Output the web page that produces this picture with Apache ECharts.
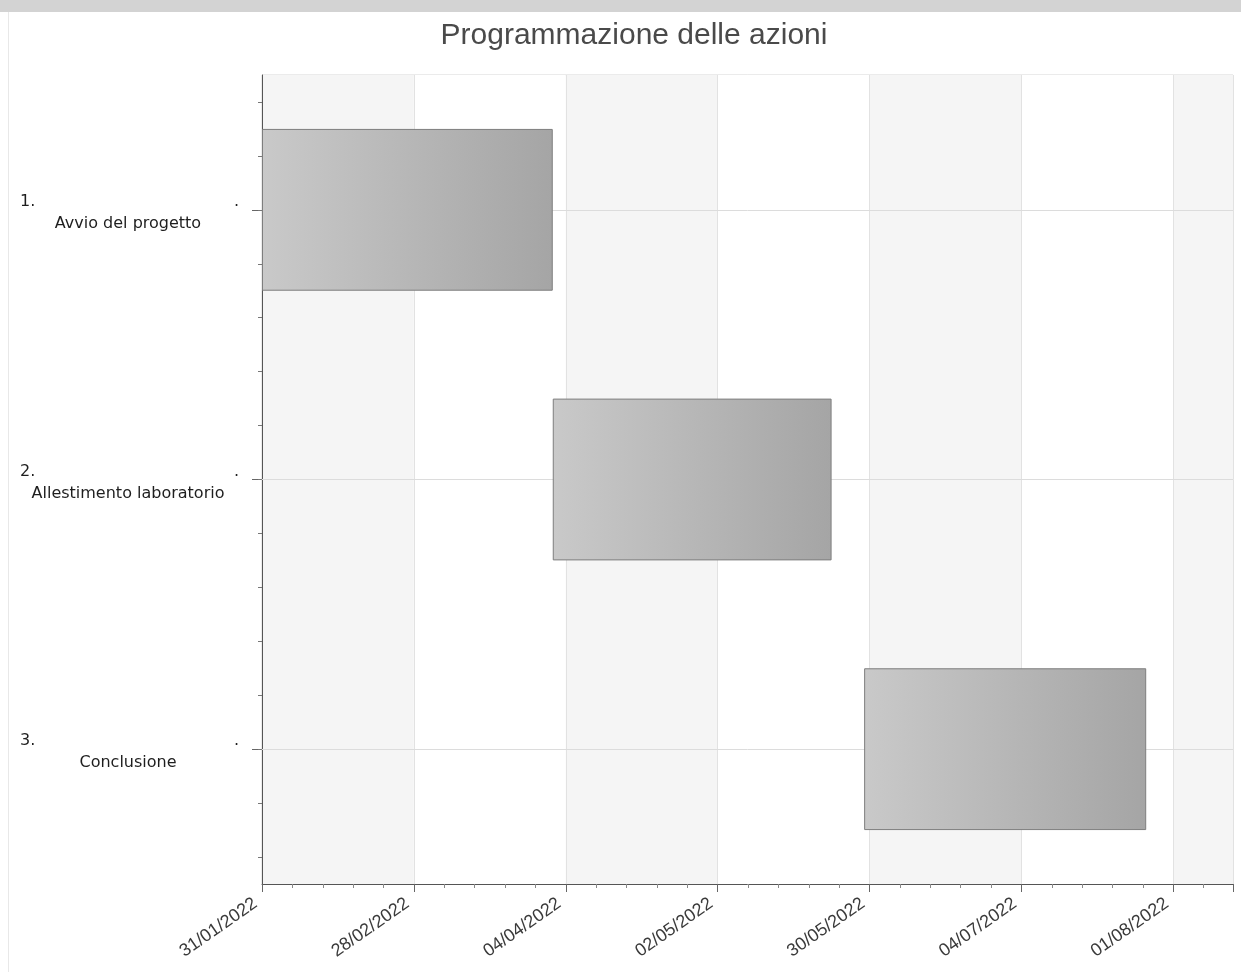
<!DOCTYPE html>
<html>
<head>
<meta charset="utf-8">
<script src="https://cdn.jsdelivr.net/npm/echarts@6/dist/echarts.min.js"></script>
<style>
  html, body { margin: 0; padding: 0; background: #ffffff; }
  #chart { width: 1241px; height: 972px; }
</style>
</head>
<body>
<div id="chart"></div>
<script>
// ---- data ----
const tickLabels = ['31/01/2022', '28/02/2022', '04/04/2022', '02/05/2022', '30/05/2022', '04/07/2022', '01/08/2022'];
const taskNumbers = ['1.', '2.', '3.'];
const taskNames = ['Avvio del progetto', 'Allestimento laboratorio', 'Conclusione'];
const taskStarts = ['2022-01-31', '2022-04-01', '2022-05-29'];
const taskEnds = ['2022-04-01', '2022-05-23', '2022-07-27'];
const axisEndDate = '2022-08-12';

// ---- helpers: date -> position on the (month-spaced) axis ----
function parseLabel(s) {
  const p = s.split('/');
  return Date.UTC(+p[2], +p[1] - 1, +p[0]);
}
function parseIso(s) {
  const p = s.split('-');
  return Date.UTC(+p[0], +p[1] - 1, +p[2]);
}
const tickTimes = tickLabels.map(parseLabel);
function datePos(iso) {
  const t = parseIso(iso);
  const n = tickTimes.length;
  for (let i = 0; i < n - 1; i++) {
    if (t >= tickTimes[i] && t <= tickTimes[i + 1]) {
      return i + (t - tickTimes[i]) / (tickTimes[i + 1] - tickTimes[i]);
    }
  }
  const last = tickTimes[n - 1] - tickTimes[n - 2];
  return (n - 1) + (t - tickTimes[n - 1]) / last;
}
const startPos = taskStarts.map(datePos);
const durations = taskEnds.map((e, i) => datePos(e) - startPos[i]);
const axisMax = datePos(axisEndDate);

// minor tick positions on the task axis: five per task band, centred on each task
const minorTickValues = [];
for (let k = -2; k <= 12; k++) minorTickValues.push(k / 5);

const chart = echarts.init(document.getElementById('chart'), null, { renderer: 'canvas' });

const option = {
  backgroundColor: '#ffffff',
  animation: false,
  title: {
    text: 'Programmazione delle azioni',
    left: 629,
    textAlign: 'center',
    top: 16,
    textStyle: {
      fontFamily: 'Liberation Sans',
      fontSize: 30,
      fontWeight: 'normal',
      color: '#4a4a4a'
    }
  },
  graphic: [
    { type: 'rect', left: 0, top: 0, shape: { width: 1241, height: 12 }, style: { fill: '#d3d3d3' }, silent: true },
    { type: 'rect', left: 8, top: 12, shape: { width: 1, height: 960 }, style: { fill: '#e8e8e8' }, silent: true }
  ],
  grid: {
    left: 262,
    right: 8,
    top: 75,
    bottom: 88,
    show: true,
    borderColor: '#d6d6d6',
    borderWidth: 1,
    backgroundColor: 'transparent'
  },
  xAxis: {
    type: 'value',
    min: 0,
    max: axisMax,
    interval: 1,
    axisLine: { show: true, onZero: false, lineStyle: { color: '#555555', width: 1 } },
    axisTick: { show: true, length: 8, lineStyle: { color: '#666666' } },
    minorTick: { show: true, splitNumber: 5, length: 4, lineStyle: { color: '#888888' } },
    splitLine: { show: true, lineStyle: { color: '#e2e2e2', width: 1 } },
    splitArea: { show: true, areaStyle: { color: ['#f5f5f5', '#ffffff'] } },
    axisLabel: {
      rotate: 35,
      margin: 13,
      padding: [0, 8, 0, 0],
      fontFamily: 'Liberation Sans',
      fontSize: 18,
      color: '#3a3a3a',
      formatter: function (v) {
        const i = Math.round(v);
        if (Math.abs(v - i) > 1e-6) return '';
        return tickLabels[i] || '';
      }
    }
  },
  yAxis: [
    {
      type: 'category',
      inverse: true,
      data: taskNames,
      axisLine: { show: true, onZero: false, lineStyle: { color: '#555555', width: 1 } },
      axisTick: { show: true, alignWithLabel: true, length: 10, lineStyle: { color: '#666666' } },
      splitLine: { show: false },
      axisLabel: {
        margin: 18,
        align: 'right',
        padding: [6, 0, 0, 0],
        fontFamily: 'DejaVu Sans',
        fontSize: 16,
        color: '#1e1e1e',
        formatter: function (value, index) {
          return '{num|' + taskNumbers[index] + '}{dot|.}\n{name|' + value + '}{pad|}';
        },
        rich: {
          num: { width: 214, align: 'left', fontFamily: 'DejaVu Sans', fontSize: 16, color: '#1e1e1e', lineHeight: 22 },
          dot: { width: 10, align: 'left', fontFamily: 'DejaVu Sans', fontSize: 16, color: '#1e1e1e', lineHeight: 22 },
          name: { width: 216, align: 'center', fontFamily: 'DejaVu Sans', fontSize: 16, color: '#1e1e1e', lineHeight: 22 },
          pad: { width: 8, lineHeight: 22 }
        }
      }
    },
    {
      type: 'value',
      position: 'left',
      inverse: true,
      min: -0.5,
      max: 2.5,
      axisLine: { show: false, onZero: false },
      axisLabel: { show: false },
      splitLine: { show: false },
      axisTick: { show: true, length: 4, customValues: minorTickValues, lineStyle: { color: '#777777' } }
    }
  ],
  series: [
    {
      type: 'bar',
      stack: 'gantt',
      yAxisIndex: 0,
      barWidth: '60%',
      silent: true,
      itemStyle: { color: 'transparent', borderWidth: 0 },
      data: startPos,
      markLine: {
        silent: true,
        z: 1,
        symbol: 'none',
        label: { show: false },
        lineStyle: { color: '#dcdcdc', width: 1, type: 'solid' },
        data: taskNames.map(function (n) { return { yAxis: n }; })
      }
    },
    {
      type: 'bar',
      stack: 'gantt',
      yAxisIndex: 0,
      barWidth: '60%',
      z: 3,
      itemStyle: {
        color: {
          type: 'linear', x: 0, y: 0, x2: 1, y2: 0,
          colorStops: [
            { offset: 0, color: '#c9c9c9' },
            { offset: 1, color: '#a5a5a5' }
          ]
        },
        borderColor: '#7e7e7e',
        borderWidth: 1
      },
      data: durations
    }
  ]
};

chart.setOption(option);
</script>
</body>
</html>
